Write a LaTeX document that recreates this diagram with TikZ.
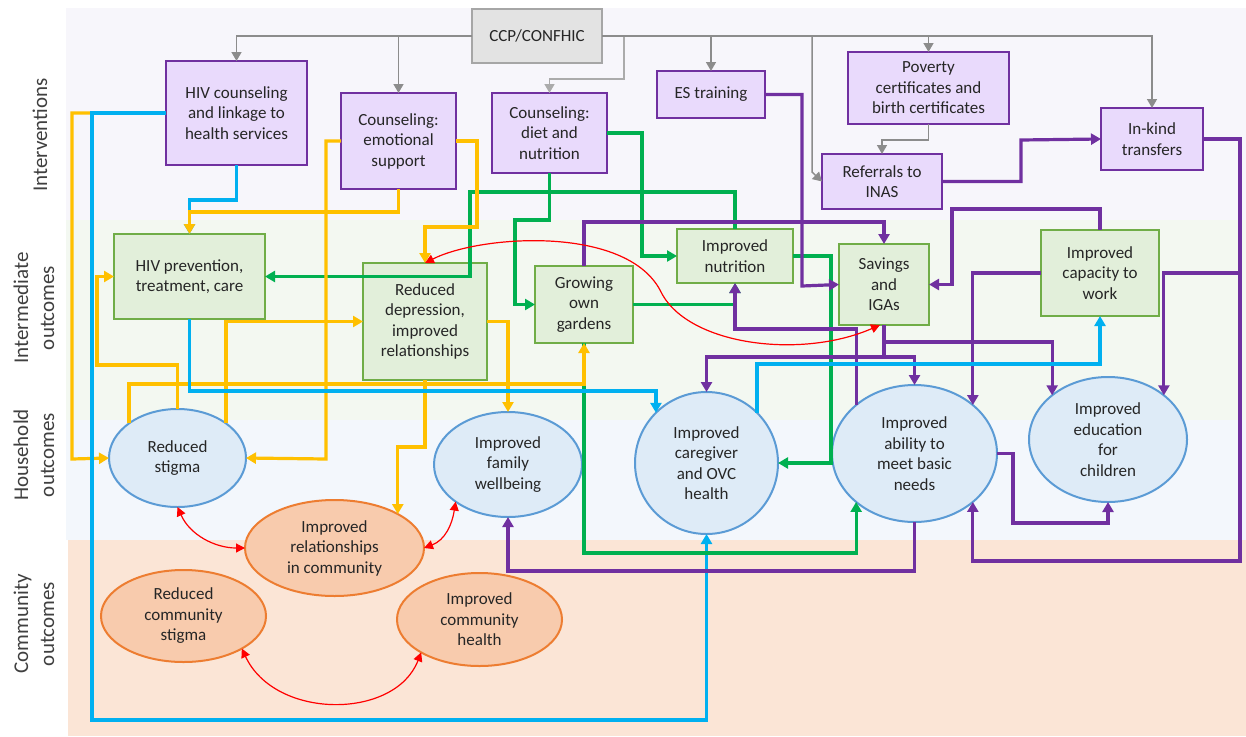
\documentclass[tikz,border=0pt]{standalone}
\usepackage{fontspec}
\setmainfont{Carlito}
\usetikzlibrary{arrows.meta,shapes.geometric}
\definecolor{ipurple}{HTML}{7030A0}
\definecolor{ifill}{HTML}{E9DAFC}
\definecolor{ogreen}{HTML}{70AD47}
\definecolor{gfill}{HTML}{E2EFDA}
\definecolor{hblue}{HTML}{5B9BD5}
\definecolor{hfill}{HTML}{DEEBF7}
\definecolor{corange}{HTML}{ED7D31}
\definecolor{cfill}{HTML}{F8CBAD}
\definecolor{ccpfill}{HTML}{E3E3E3}
\definecolor{ccpdraw}{HTML}{A6A6A6}
\definecolor{bandI}{HTML}{F7F6FB}
\definecolor{bandM}{HTML}{F3F8F1}
\definecolor{bandH}{HTML}{F3F7FC}
\definecolor{bandC}{HTML}{FBE5D6}
\definecolor{cyel}{HTML}{FFC000}
\definecolor{cblu}{HTML}{00B0F0}
\definecolor{cgrn}{HTML}{00B050}
\definecolor{cpur}{HTML}{7030A0}
\definecolor{cred}{HTML}{FF0000}
\definecolor{cgry}{HTML}{8C8C8C}
\definecolor{cgryl}{HTML}{ABABAB}
\definecolor{txt}{HTML}{262626}
\definecolor{lbl}{HTML}{404040}
\tikzset{
  base/.style={font=\fontsize{17}{20.5}\selectfont, text=txt, align=center, inner sep=0pt, outer sep=0pt},
  ibox/.style={base, rectangle, draw=ipurple, fill=ifill, line width=2.5pt},
  obox/.style={base, rectangle, draw=ogreen, fill=gfill, line width=2.5pt},
  ccpbox/.style={base, rectangle, draw=ccpdraw, fill=ccpfill, line width=2.5pt},
  hell/.style={base, ellipse, draw=hblue, fill=hfill, line width=2pt},
  cell/.style={base, ellipse, draw=corange, fill=cfill, line width=2pt},
  lblst/.style={font=\fontsize{21}{26}\selectfont, text=lbl, align=center, rotate=90, inner sep=0pt},
  conn/.style={line width=3.2pt, -{Triangle[length=10pt,width=11pt]}},
  yl/.style={conn, draw=cyel},
  bl/.style={conn, draw=cblu},
  gn/.style={conn, draw=cgrn},
  pp/.style={conn, draw=cpur},
  gr/.style={draw=cgry, line width=1.5pt, -{Triangle[length=9pt,width=10pt]}},
  grl/.style={gr, draw=cgryl},
  rd/.style={draw=cred, line width=1.2pt, {Triangle[length=9pt,width=9pt]}-{Triangle[length=9pt,width=9pt]}}
}
\begin{document}
\begin{tikzpicture}[x=1pt,y=-1pt]
\useasboundingbox (0,0) rectangle (1246,736);
\fill[white] (0,0) rectangle (1246,736);
\fill[bandI] (66,8) rectangle (1246,220);
\fill[bandM] (66,220) rectangle (1246,420);
\fill[bandH] (66,420) rectangle (1246,540);
\fill[bandC] (68,540) rectangle (1246,736);

% band labels
\node[lblst] (lI) at (40,135) {Interventions};
\node[lblst] (lM) at (34,308) {Intermediate\\outcomes};
\node[lblst] (lH) at (34,455) {Household\\outcomes};
\node[lblst] (lC) at (34,624) {Community\\outcomes};

% interventions
\node[ccpbox, minimum width=130pt, minimum height=54pt] (ccp) at (537,36) {CCP/CONFHIC};
\node[ibox, minimum width=141pt, minimum height=104pt] (hivc) at (236.5,113) {HIV counseling\\and linkage to\\health services};
\node[ibox, minimum width=115pt, minimum height=96pt] (cemo) at (398.5,141) {Counseling:\\emotional\\support};
\node[ibox, minimum width=115pt, minimum height=80pt] (cdiet) at (549.5,133) {Counseling:\\diet and\\nutrition};
\node[ibox, minimum width=108pt, minimum height=47pt] (es) at (711,94.5) {ES training};
\node[ibox, minimum width=161pt, minimum height=72pt] (pov) at (928.5,88) {Poverty\\certificates and\\birth certificates};
\node[ibox, minimum width=120pt, minimum height=55pt] (ref) at (882,181.5) {Referrals to\\INAS};
\node[ibox, minimum width=102pt, minimum height=62pt] (ink) at (1152,139) {In-kind\\transfers};

% intermediate
\node[obox, minimum width=151pt, minimum height=85pt] (hivp) at (189.5,276.5) {HIV prevention,\\treatment, care};
\node[obox, minimum width=124pt, minimum height=117pt] (rdep) at (425,321.5) {Reduced\\depression,\\improved\\relationships};
\node[obox, minimum width=98pt, minimum height=77pt] (gard) at (584,304.5) {Growing\\own\\gardens};
\node[obox, minimum width=116pt, minimum height=54pt] (nutr) at (735,256) {Improved\\nutrition};
\node[obox, minimum width=90pt, minimum height=81pt] (sav) at (884,284.5) {Savings\\and\\IGAs};
\node[obox, minimum width=118pt, minimum height=86pt] (cap) at (1100,273) {Improved\\capacity to\\work};

% household
\node[hell, minimum width=137pt, minimum height=98pt] (stig) at (177.5,458) {Reduced\\stigma};
\node[hell, minimum width=148pt, minimum height=105pt] (fam) at (508,464.5) {Improved\\family\\wellbeing};
\node[hell, minimum width=143pt, minimum height=142pt] (care) at (706.5,463) {Improved\\caregiver\\and OVC\\health};
\node[hell, minimum width=165pt, minimum height=137pt] (abil) at (914.5,453.5) {Improved\\ability to\\meet basic\\needs};
\node[hell, minimum width=158pt, minimum height=125pt] (edu) at (1108,439.5) {Improved\\education\\for\\children};

% community
\node[cell, minimum width=179pt, minimum height=96pt] (relc) at (334.5,548) {Improved\\relationships\\in community};
\node[cell, minimum width=165pt, minimum height=92pt] (rcs) at (183.5,616) {Reduced\\community\\stigma};
\node[cell, minimum width=165pt, minimum height=93pt] (chl) at (479.5,619.5) {Improved\\community\\health};

% gray connectors from CCP
\draw[gr] (ccp.west) -| (hivc.north);
\draw[gr] (ccp.west) -| (cemo.north);
\draw[grl] (ccp.east) -| (624,79) -| (cdiet.north);
\draw[gr] (ccp.east) -| (es.north);
\draw[gr] (ccp.east) -| (812,172) -- (ref.west);
\draw[gr] (ccp.east) -| (pov.north);
\draw[gr] (ccp.east) -| (ink.north);
\draw[gr] (pov.south) -- ++(0,16) -| (ref.north);

% yellow / blue from HIV counseling
\draw[yl] (hivc.west) -| (72,459) -- (stig.west);
\draw[bl] (hivc.west) -| (92,720) -| (care.south);
\draw[bl] (hivc.south) |- (hivp.north |- 0,200) -- (hivp.north);

% green
\draw[gn] (cdiet.south) |- (515,220) |- (gard.west);
\draw[gn] (cdiet.east) -| (642,256) -- (nutr.west);
\draw[gn] (nutr.north) |- (470,192) |- (hivp.east);
\draw[gn] (gard.east) -| (nutr.south);
\draw[gn] (nutr.east) -| (831,463) -- (care.east);
\draw[gn] (gard.south) |- (abil.south west |- 0,553) -- (abil.south west);

% yellow
\draw[yl] (cemo.south) |- (hivp.north |- 0,212) -- (hivp.north);
\draw[yl] (cemo.west) -| (326,459) -- (stig.east);
\draw[yl] (cemo.east) -| (477,227) -| (rdep.north);
\draw[yl] (stig.north) |- (97,365) |- (hivp.west);
\draw[yl] (stig.north west) |- (gard.south |- 0,384) -- (gard.south);
\draw[yl] (stig.north east) |- (rdep.west);
\draw[yl] (rdep.east) -| (fam.north);
\draw[yl] (rdep.south) |- (relc.north east |- 0,447) -- (relc.north east);

% purple
\draw[pp] (es.east) -| (802,286) -- (sav.west);
\draw[pp] (ref.east) -| (1021,140) -- (ink.west);
\draw[pp] (ink.east) -| (1240,273) -| (edu.north east);
\draw[pp] (ink.east) -| (1240,561) -| (abil.south east);
\draw[pp] (cap.north) |- (952,209) |- (sav.east);
\draw[pp] (gard.north) |- (sav.north |- 0,222) -- (sav.north);
\draw[pp] (cap.west) -| (abil.north east);
\draw[pp] (sav.south) |- (edu.north west |- 0,342) -- (edu.north west);
\draw[pp] (sav.south) |- (abil.north |- 0,357) -- (abil.north);
\draw[pp] (sav.south) |- (care.north |- 0,357) -- (care.north);
\draw[pp] (abil.north west) |- (nutr.south |- 0,329) -- (nutr.south);
\draw[pp] (abil.south) |- (fam.south |- 0,571) -- (fam.south);
\draw[pp] (abil.east) -| (1013,523) -| (edu.south);

% blue
\draw[bl] (hivp.south) |- (care.north west |- 0,391) -- (care.north west);
\draw[bl] (care.north east) |- (cap.south |- 0,364) -- (cap.south);

% red
\draw[rd] (rdep.north) .. controls (480,235) and (625,225) .. (660,290) .. controls (685,345) and (800,360) .. ([xshift=-4pt]sav.south);
\draw[rd] (stig.south) .. controls (190,535) and (215,548) .. (relc.west);
\draw[rd] (fam.south west) .. controls (452,525) and (445,540) .. (relc.east);
\draw[rd] (rcs.south east) .. controls (275,720) and (395,720) .. (chl.south west);
\end{tikzpicture}
\end{document}
